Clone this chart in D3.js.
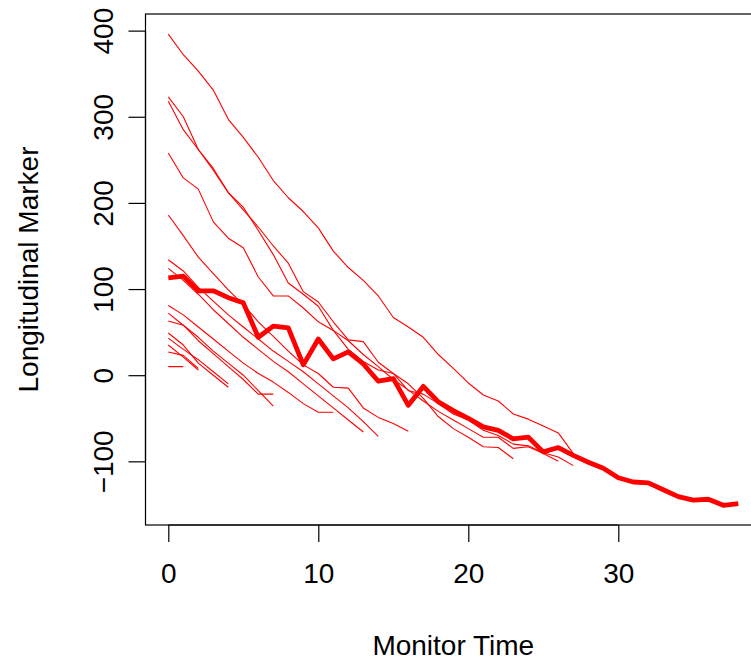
<!DOCTYPE html>
<html>
<head>
<meta charset="utf-8">
<script src="https://cdn.jsdelivr.net/npm/d3@7"></script>
<style>
  html, body { margin: 0; padding: 0; background: #fff; }
  svg { display: block; }
</style>
</head>
<body>
<div id="chart"></div>
<script>
/* ============================================================
   Spaghetti plot: longitudinal marker per subject vs monitor time
   thin red = subjects, thick red = mean profile
   (value index = monitor time, starting at 0)
   ============================================================ */

const xTicks = [0, 10, 20, 30];
const yTicks = [-100, 0, 100, 200, 300, 400];

const meanMarker = [113, 115, 98, 98, 90, 84, 44, 57, 55, 12, 42, 19, 27, 13, -7, -4,
  -35, -13, -31, -41, -50, -60, -64, -74, -72, -89, -84, -93, -101, -108, -119,
  -124, -125, -133, -141, -145, -144, -151, -149];

const subj01 = [396, 372, 353, 331, 297, 276, 253, 226, 206, 190, 171, 144, 125, 110,
  92, 67, 56, 44, 24, 8, -9, -23, -30, -45, -51, -59, -67, -91];
const subj02 = [323, 300, 262, 238, 212, 192, 172, 150, 130, 97, 85, 62, 41, 39, 15, 2,
  -10, -27, -48, -62, -72, -83, -84, -97];
const subj03 = [318, 285, 262, 240, 212, 195, 168, 140, 107, 94, 80, 52, 30, 16, 6, 2,
  -18, -22, -33, -45, -52, -64, -70, -80, -82, -90, -95, -105];
const subj04 = [258, 229, 216, 178, 159, 148, 114, 92, 92, 78, 62, 52, 40, 24, 10, -5,
  -17, -30, -42, -52, -62, -72, -72, -85, -83, -91, -100];
const subj05 = [186, 162, 137, 118, 99, 82, 62, 45, 28, 12, 2, -14, -15, -38, -49, -56, -65];
const subj06 = [134, 121, 102, 86, 70, 56, 42, 28, 16, 4, -10, -24, -38, -54, -71];
const subj07 = [124, 110, 94, 76, 60, 44, 30, 16, 4, -10, -24, -38, -52, -66];
const subj08 = [81, 70, 56, 42, 28, 14, 2, -8, -20, -33, -43, -43];
const subj09 = [72, 58, 44, 28, 14, 0, -18, -36];
const subj10 = [63, 58, 40, 25, 10, -5, -22, -22];
const subj11 = [49, 35, 14, 0, -14];
const subj12 = [43, 30, 18, 4, -10];
const subj13 = [35, 21, 6];
const subj14 = [27, 23, 8];
const subj15 = [10, 10];

const subjects = [subj01, subj02, subj03, subj04, subj05, subj06, subj07, subj08,
  subj09, subj10, subj11, subj12, subj13, subj14, subj15];

(function draw() {
  const W = 751, H = 661;
  const FONT = 'Liberation Sans, Arial, Helvetica, sans-serif';
  const FS = 28;
  const RED = '#ff0000';

  /* plot box (R style: 4% padding round the data range) */
  const box = { l: 145.5, t: 14, b: 525 };

  const x = d3.scaleLinear().domain([-1.52, 39.52]).range([box.l, box.l + 41.04 * 15]);
  const y = d3.scaleLinear().domain([-173.9, 419.3]).range([box.b, box.t]);
  const boxR = x.range()[1];

  const svg = d3.select('#chart').append('svg')
    .attr('width', W).attr('height', H).attr('viewBox', `0 0 ${W} ${H}`);

  /* clip to the box */
  svg.append('clipPath').attr('id', 'plotclip')
    .append('rect').attr('x', box.l).attr('y', box.t)
    .attr('width', boxR - box.l).attr('height', box.b - box.t);

  const lines = svg.append('g').attr('clip-path', 'url(#plotclip)');
  const line = d3.line().x((d, i) => x(i)).y(d => y(d));

  /* subjects */
  lines.selectAll('.subj').data(subjects).join('path')
    .attr('class', 'subj')
    .attr('fill', 'none').attr('stroke', RED)
    .attr('stroke-width', 1.1).attr('stroke-linejoin', 'round')
    .attr('d', line);

  /* mean profile */
  lines.append('path').datum(meanMarker)
    .attr('fill', 'none').attr('stroke', RED)
    .attr('stroke-width', 4.8).attr('stroke-linejoin', 'round')
    .attr('d', line);

  /* box */
  svg.append('rect')
    .attr('x', box.l).attr('y', box.t)
    .attr('width', boxR - box.l).attr('height', box.b - box.t)
    .attr('fill', 'none').attr('stroke', '#000').attr('stroke-width', 1.2);

  /* bottom axis */
  const xAxis = svg.append('g')
    .attr('transform', `translate(0,${box.b})`)
    .call(d3.axisBottom(x).tickValues(xTicks).tickSize(17).tickSizeOuter(0).tickPadding(21))
    .attr('font-family', FONT).attr('font-size', FS);
  xAxis.select('.domain').attr('stroke', '#000').attr('stroke-width', 1.2)
    .attr('d', `M${x(xTicks[0])},0H${x(xTicks[xTicks.length - 1])}`);
  xAxis.selectAll('.tick line').attr('stroke', '#000').attr('stroke-width', 1.2);
  xAxis.selectAll('.tick text').attr('fill', '#000');

  /* left axis, labels rotated like R's las = 0 */
  const yAxis = svg.append('g')
    .attr('transform', `translate(${box.l},0)`)
    .call(d3.axisLeft(y).tickValues(yTicks).tickSize(17).tickSizeOuter(0)
      .tickFormat(d => d < 0 ? '\u2212' + Math.abs(d) : String(d)));
  yAxis.select('.domain').attr('stroke', '#000').attr('stroke-width', 1.2)
    .attr('d', `M0,${y(yTicks[0])}V${y(yTicks[yTicks.length - 1])}`);
  yAxis.selectAll('.tick line').attr('stroke', '#000').attr('stroke-width', 1.2);
  yAxis.selectAll('.tick text')
    .attr('x', null).attr('dy', null)
    .attr('transform', 'translate(-32.5,0) rotate(-90)')
    .attr('text-anchor', 'middle')
    .attr('font-family', FONT).attr('font-size', FS).attr('fill', '#000');

  /* axis titles */
  svg.append('text')
    .attr('x', (box.l + boxR) / 2).attr('y', 655)
    .attr('text-anchor', 'middle')
    .attr('font-family', FONT).attr('font-size', FS).attr('fill', '#000')
    .text('Monitor Time');

  svg.append('text')
    .attr('transform', `translate(38,${(box.t + box.b) / 2}) rotate(-90)`)
    .attr('text-anchor', 'middle')
    .attr('font-family', FONT).attr('font-size', FS).attr('fill', '#000')
    .text('Longitudinal Marker');
})();
</script>
</body>
</html>
